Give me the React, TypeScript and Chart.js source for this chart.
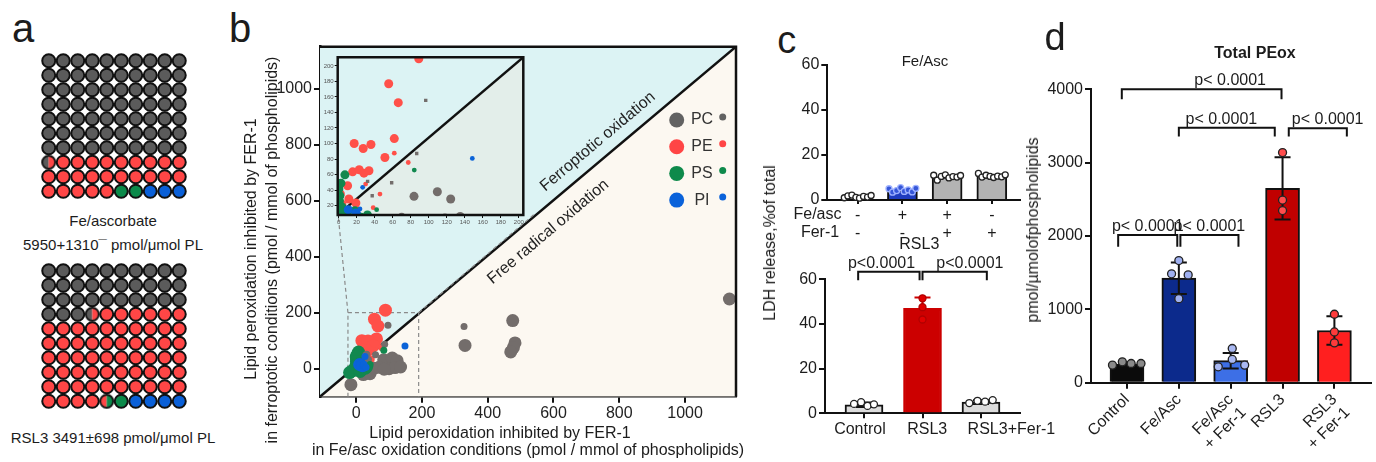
import React, { useEffect, useRef } from 'react';
import { Chart, registerables } from 'chart.js';

Chart.register(...registerables);

const FONT = '"Liberation Sans", Arial, Helvetica, sans-serif';
Chart.defaults.font.family = FONT;
Chart.defaults.color = '#1c1c1c';

type Pt = [number, number];

/* ---------------- Panel a : waffle grids ---------------- */
const waffleFeAscRows = [
  'CCCCCCCCCC', 'CCCCCCCCCC', 'CCCCCCCCCC', 'CCCCCCCCCC', 'CCCCCCCCCC', 'CCCCCCCCCC', 'CCCCCCCCCC',
  'xEEEEEEEEE', 'EEEEEEEEEE', 'EEEEESSIII',
];
const waffleRsl3Rows = [
  'CCCCCCCCCC', 'CCCCCCCCCC', 'CCCCCCCCCC', 'CCCxEEEEEE',
  'EEEEEEEEEE', 'EEEEEEEEEE', 'EEEEEEEEEE', 'EEEEEEEEEE', 'EEEEEEEEEE',
  'EEEEySIIII',
];
const waffleColors: Record<string, string> = { C: '#5b5b5b', E: '#ff4646', S: '#0b8a4a', I: '#0a60d8' };
const waffleSplits: Record<string, [string, string]> = { x: ['C', 'E'], y: ['E', 'S'] };
const feAscCaption = ['Fe/ascorbate', '5950+1310\u00AF pmol/\u03BCmol PL'];
const rsl3Caption = 'RSL3 3491\u00B1698 pmol/\u03BCmol PL';

/* ---------------- Panel b : scatter ---------------- */
const bClasses = ['PC', 'PE', 'PS', 'PI'];
const bColors = ['#736d6b', '#ff5049', '#11884f', '#0b63d8'];
const bLegendColors = ['#626262', '#ff4545', '#0e8a4b', '#0a62da'];
const pcLarge: Pt[] = [[83.7, 32], [109.6, 38], [124.4, 28.6], [476, 172], [331, 83], [483, 92], [478, 75], [470, 60],
  [1135, 249], [-16, -57], [2, -5], [22, -21], [42, -18], [55, 2], [70, 5], [100, 0], [118, 4], [135, 6], [85, -2]];
const pcSmall: Pt[] = [[96.7, 155.5], [86.7, 87.2], [32.2, 51.3], [58.9, 49.5], [37.3, 32.8], [328, 151]];
const peLarge: Pt[] = [[89, 209], [55.6, 177], [66.2, 152.6], [61.8, 106.4], [17.3, 100], [27.3, 93.6], [35.9, 98.7],
  [51.4, 82], [15.6, 63.6], [22.9, 66.2], [28.1, 61.9], [33.7, 64.9], [10, 45.6], [11.4, 28.6], [19.2, 23.5], [2, 35], [3.7, 22]];
const peSmall: Pt[] = [[61.8, 87.6], [77.3, 75.6], [30, 47.8], [45.9, 35], [38.4, 17.4]];
const psLarge: Pt[] = [[7, 59.7], [1.4, 32.8], [18.1, 13.6], [0.3, 41.4], [2.6, 49], [0.9, 26], [3.7, 18.3], [7, 12],
  [0.3, 13], [10.3, 13], [5, 5], [-5, 0], [15, -5], [25, 5], [-12, -8], [-20, -14], [28, 2], [12, -10], [32, 8]];
const psSmall: Pt[] = [[84, 65.8], [42.2, 14.9]];
const piLarge: Pt[] = [[10.7, 14.9], [19.2, 10.6]];
const piSmall: Pt[] = [[148.4, 80.8], [26.7, 43.6], [21.8, 11.5], [23.7, 15.8], [30, 5]];
const bPointSets: { cls: number; big: boolean; pts: Pt[]; order: number }[] = [
  { cls: 1, big: true, pts: peLarge, order: 8 },
  { cls: 0, big: true, pts: pcLarge, order: 7 },
  { cls: 2, big: true, pts: psLarge, order: 6 },
  { cls: 3, big: true, pts: piLarge, order: 5 },
  { cls: 1, big: false, pts: peSmall, order: 4 },
  { cls: 0, big: false, pts: pcSmall, order: 3 },
  { cls: 2, big: false, pts: psSmall, order: 2 },
  { cls: 3, big: false, pts: piSmall, order: 1 },
];
const bXRange: Pt = [-110, 1155];
const bYRange: Pt = [-100, 1150];
const bXTicks = [0, 200, 400, 600, 800, 1000];
const bYTicks = [0, 200, 400, 600, 800, 1000];
const bZoomBox: Pt[] = [[-25, -100], [-25, 200], [190, 200], [190, -100]];
const bZoomLinkLeft: Pt[] = [[-25, 200], [-55, 550]];
const bZoomLinkRight: Pt[] = [[190, 200], [540, 550]];
const bRegionLabels = [
  { text: 'Ferroptotic oxidation', x: 735, y: 811 },
  { text: 'Free radical oxidation', x: 584, y: 489 },
];
const insetXRange: Pt = [-1, 205];
const insetYRange: Pt = [8, 211];
const insetXTicks = [0, 20, 40, 60, 80, 100, 120, 140, 160, 180, 200];
const insetYTicks = [20, 40, 60, 80, 100, 120, 140, 160, 180, 200];

/* ---------------- Panel c ---------------- */
const cTopFeAsc = ['-', '+', '+', '-'];
const cTopFer1 = ['-', '-', '+', '+'];
const cTopValues = [1.5, 4.3, 10.3, 10.8];
const cTopReplicates = [
  [1.0, 1.8, 2.2, 1.2, 0.8, 1.6, 1.3, 2.0],
  [5.0, 3.5, 4.2, 5.5, 3.8, 4.5, 3.6, 5.2],
  [11.0, 8.8, 10.5, 11.2, 9.8, 10.4, 10.2, 10.9],
  [11.8, 10.2, 11.0, 10.5, 10.0, 10.6, 10.3, 11.2],
];
const cTopOffsets = [-0.3, -0.22, -0.13, -0.04, 0.04, 0.13, 0.22, 0.3];
const cYTicks = [0, 20, 40, 60];
const cBotLabels = ['Control', 'RSL3', 'RSL3+Fer-1'];
const cBotLabelPos = [-0.07, 1.08, 2.52];
const cBotValues = [3.8, 47, 5.0];
const cBotSd = [1.0, 4.8, 0.8];
const cBotReplicates = [[4.2, 5.0, 3.3, 4.0], [51.5, 47.5, 42.0], [4.6, 5.6, 5.2, 5.9]];
const cBotOffsets = [[-0.17, -0.05, 0.06, 0.17], [0, 0, 0], [-0.2, -0.06, 0.07, 0.2]];
const cBotBrackets = [
  { from: -0.1, to: 0.95, y: 63.4, drop: 59.6, label: 'p<0.0001', labelX: 0.3 },
  { from: 1.0, to: 2.1, y: 63.4, drop: 59.6, label: 'p<0.0001', labelX: 1.81 },
];

/* ---------------- Panel d ---------------- */
const dLabels = [['Control'], ['Fe/Asc'], ['Fe/Asc', '+ Fer-1'], ['RSL3'], ['RSL3', '+ Fer-1']];
const dValues = [255, 1425, 300, 2650, 712];
const dSd = [25, 215, 105, 425, 195];
const dReplicates = [[240, 285, 262, 262], [1665, 1485, 1470, 1145], [466, 317, 217, 240], [3138, 2490, 2347], [933, 692, 543]];
const dOffsets = [[-0.28, -0.09, 0.08, 0.27], [0, -0.14, 0.18, 0], [0.03, 0.03, -0.24, 0.27], [0, 0, 0], [0, 0, 0]];
const dYTicks = [0, 1000, 2000, 3000, 4000];
const dBrackets = [
  { from: -0.1, to: 2.98, y: 4001, drop: 3865, label: 'p< 0.0001', labelX: 1.99 },
  { from: 1.0, to: 2.85, y: 3477, drop: 3355, label: 'p< 0.0001', labelX: 1.82 },
  { from: 3.12, to: 4.24, y: 3469, drop: 3355, label: 'p< 0.0001', labelX: 3.87 },
  { from: -0.17, to: 0.97, y: 2014, drop: 1855, label: 'p< 0.0001' },
  { from: 1.03, to: 2.15, y: 2014, drop: 1855, label: 'p< 0.0001' },
];

/* ---------------- helpers ---------------- */
const base = (padding: any) => ({
  responsive: false,
  animation: false as const,
  devicePixelRatio: 1,
  events: [] as any[],
  layout: { padding },
  plugins: { legend: { display: false }, tooltip: { enabled: false }, title: { display: false } },
});
const tickGrid = (len: number, lw = 2) => ({
  display: true, drawOnChartArea: false, drawTicks: true, tickLength: len, color: '#111', lineWidth: lw, offset: false,
});
const xy = (arr: Pt[]) => arr.map(([x, y]) => ({ x, y }));

function splitCircle(left: string, right: string, r: number, bw: number) {
  const size = Math.ceil(2 * (r + bw));
  const cv = document.createElement('canvas');
  cv.width = size; cv.height = size;
  const g = cv.getContext('2d')!;
  const c = size / 2;
  g.fillStyle = left; g.beginPath(); g.moveTo(c, c); g.arc(c, c, r, Math.PI / 2, Math.PI * 1.5); g.closePath(); g.fill();
  g.fillStyle = right; g.beginPath(); g.moveTo(c, c); g.arc(c, c, r, -Math.PI / 2, Math.PI / 2); g.closePath(); g.fill();
  g.strokeStyle = '#111'; g.lineWidth = bw; g.beginPath(); g.arc(c, c, r, 0, Math.PI * 2); g.stroke();
  return cv;
}

function waffleConfig(rows: string[]) {
  const pts: any[] = [], colors: string[] = [], styles: any[] = [];
  rows.forEach((row, r) => row.split('').forEach((code, c) => {
    pts.push({ x: c + 1, y: r + 1 });
    if (waffleSplits[code]) {
      const [l, rr] = waffleSplits[code];
      styles.push(splitCircle(waffleColors[l], waffleColors[rr], 6.5, 2));
      colors.push('rgba(0,0,0,0)');
    } else { styles.push('circle'); colors.push(waffleColors[code]); }
  }));
  return {
    type: 'scatter',
    data: { datasets: [{ data: pts, pointStyle: styles, pointRadius: 6.5, pointBackgroundColor: colors, pointBorderColor: '#111', pointBorderWidth: 2, clip: false }] },
    options: {
      ...base(0),
      scales: {
        x: { type: 'linear', min: 0.5, max: 10.5, display: false },
        y: { type: 'linear', min: 0.5, max: 10.5, reverse: true, display: false },
      },
    },
  };
}

function bPointDatasets(rL: number, rS: number, smallPcStyle: string) {
  return bPointSets.map(s => ({
    data: xy(s.pts), showLine: false,
    pointRadius: s.big ? rL : rS,
    pointStyle: (!s.big && s.cls === 0) ? smallPcStyle : 'circle',
    pointBackgroundColor: bColors[s.cls], pointBorderWidth: 0, borderWidth: 0, order: s.order,
  }));
}
function diagSets(xr: Pt, yr: Pt, above: string, below: string) {
  const d = [{ x: xr[0], y: yr[0] }, { x: xr[1], y: yr[1] }];
  const none = 'rgba(0,0,0,0)';
  return [
    { data: d, borderColor: '#111', borderWidth: 2.5, pointRadius: 0, fill: false, order: 12 },
    { data: d, borderColor: none, borderWidth: 1, pointRadius: 0, fill: 'end', backgroundColor: above, order: 20 },
    { data: d, borderColor: none, borderWidth: 1, pointRadius: 0, fill: 'start', backgroundColor: below, order: 21 },
  ];
}

function framePlugin(all: boolean, width: number) {
  return {
    id: 'frame' + (all ? 'All' : 'TR'),
    afterDatasetsDraw(chart: any) {
      const { ctx, chartArea: a } = chart;
      ctx.save();
      ctx.strokeStyle = '#111'; ctx.lineWidth = width;
      ctx.beginPath();
      if (all) { ctx.rect(a.left, a.top, a.right - a.left, a.bottom - a.top); }
      else { ctx.moveTo(a.left, a.top); ctx.lineTo(a.right, a.top); ctx.lineTo(a.right, a.bottom); }
      ctx.stroke();
      ctx.restore();
    },
  };
}

const bTextPlugin = {
  id: 'bText',
  afterDatasetsDraw(chart: any) {
    const { ctx, chartArea: a, scales: { x, y } } = chart;
    ctx.save();
    const ang = Math.atan2(y.getPixelForValue(bYRange[1]) - y.getPixelForValue(bYRange[0]),
      x.getPixelForValue(bXRange[1]) - x.getPixelForValue(bXRange[0]));
    ctx.font = `16px ${FONT}`; ctx.fillStyle = '#222'; ctx.textAlign = 'center'; ctx.textBaseline = 'middle';
    bRegionLabels.forEach(l => {
      ctx.save();
      ctx.translate(x.getPixelForValue(l.x), y.getPixelForValue(l.y));
      ctx.rotate(ang);
      ctx.fillText(l.text, 0, 0);
      ctx.restore();
    });
    bClasses.forEach((name, i) => {
      const cy = a.top + 73.3 + i * 26.7;
      ctx.fillStyle = bLegendColors[i];
      ctx.beginPath(); ctx.arc(a.right - 59.3, cy, 7.5, 0, Math.PI * 2); ctx.fill();
      ctx.beginPath(); ctx.arc(a.right - 13.3, cy - 3, 3.5, 0, Math.PI * 2); ctx.fill();
      ctx.fillStyle = '#333';
      ctx.fillText(name, a.right - 34, cy);
    });
    ctx.restore();
  },
};

function bMainConfig() {
  const dashed = (pts: Pt[]) => ({ data: xy(pts), borderColor: '#8a8a8a', borderWidth: 1.2, borderDash: [4, 3], pointRadius: 0, fill: false, order: 11 });
  return {
    type: 'line',
    data: {
      datasets: [
        ...bPointDatasets(6.5, 3.5, 'circle'),
        dashed(bZoomBox), dashed(bZoomLinkLeft), dashed(bZoomLinkRight),
        ...diagSets(bXRange, bYRange, '#dcf3f4', '#fcf8f1'),
      ],
    },
    options: {
      ...base({ left: 0, top: 16.7, right: 14, bottom: 0 }),
      scales: {
        x: {
          type: 'linear', min: bXRange[0], max: bXRange[1], offset: false,
          afterBuildTicks: (s: any) => { s.ticks = bXTicks.map(v => ({ value: v })); },
          ticks: { callback: (v: any) => String(v), font: { size: 16 }, color: '#222', padding: 1, maxRotation: 0, autoSkip: false },
          grid: tickGrid(6), border: { display: true, color: '#111', width: 2.5 },
          afterFit: (s: any) => { s.height = 65.3; },
        },
        y: {
          type: 'linear', min: bYRange[0], max: bYRange[1],
          afterBuildTicks: (s: any) => { s.ticks = bYTicks.map(v => ({ value: v })); },
          ticks: { callback: (v: any) => String(v), font: { size: 16 }, color: '#222', padding: 2 },
          grid: tickGrid(6), border: { display: true, color: '#111', width: 2.5 },
          afterFit: (s: any) => { s.width = 90; },
        },
      },
    },
    plugins: [framePlugin(false, 2.5), bTextPlugin],
  };
}

function bInsetConfig() {
  return {
    type: 'line',
    data: { datasets: [...bPointDatasets(4.5, 2.4, 'rect'), ...diagSets(insetXRange, insetYRange, '#dcf3f4', '#e3eeea')] },
    options: {
      ...base({ left: 0, top: 9.3, right: 11.7, bottom: 0 }),
      scales: {
        x: {
          type: 'linear', min: insetXRange[0], max: insetXRange[1], offset: false,
          afterBuildTicks: (s: any) => { s.ticks = insetXTicks.map(v => ({ value: v })); },
          ticks: { callback: (v: any) => String(v), font: { size: 6 }, color: '#555', padding: 1, maxRotation: 0, autoSkip: false },
          grid: tickGrid(3, 1), border: { display: false },
          afterFit: (s: any) => { s.height = 18; },
        },
        y: {
          type: 'linear', min: insetYRange[0], max: insetYRange[1],
          afterBuildTicks: (s: any) => { s.ticks = insetYTicks.map(v => ({ value: v })); },
          ticks: { callback: (v: any) => String(v), font: { size: 6 }, color: '#555', padding: 1, autoSkip: false },
          grid: tickGrid(3, 1), border: { display: false },
          afterFit: (s: any) => { s.width = 27.7; },
        },
      },
    },
    plugins: [framePlugin(true, 2.5)],
  };
}

type Bracket = { from: number; to: number; y: number; drop: number; label: string; labelX?: number };

function barPanelConfig(p: any) {
  const idx = p.values.map((_: number, i: number) => i);
  const datasets: any[] = [
    {
      type: 'bar', data: p.values.map((v: number, i: number) => ({ x: i, y: v })),
      backgroundColor: p.barColors, borderColor: p.barEdges, borderWidth: 2, barThickness: p.barWidth, order: 2,
    },
    ...p.reps.map((reps: number[], i: number) => ({
      type: 'scatter', data: reps.map((v, j) => ({ x: i + p.offsets[i][j], y: v })),
      pointRadius: p.dotR, pointBackgroundColor: p.dotFill[i], pointBorderColor: p.dotEdge[i], pointBorderWidth: 1.3,
      order: 1, clip: false,
    })),
  ];
  const errPlugin = {
    id: 'errbars',
    afterDatasetDraw(chart: any, args: any) {
      if (args.index !== 0) return;
      const { ctx, scales: { x, y } } = chart;
      ctx.save(); ctx.lineWidth = 2;
      p.values.forEach((m: number, i: number) => {
        const sd = p.sds[i]; if (!sd) return;
        const px = x.getPixelForValue(i);
        const t = y.getPixelForValue(m + sd), b = y.getPixelForValue(Math.max(m - sd, 0));
        ctx.strokeStyle = p.errColors[i];
        ctx.beginPath();
        ctx.moveTo(px, t); ctx.lineTo(px, b);
        ctx.moveTo(px - p.capHalf, t); ctx.lineTo(px + p.capHalf, t);
        ctx.moveTo(px - p.capHalf, b); ctx.lineTo(px + p.capHalf, b);
        ctx.stroke();
      });
      ctx.restore();
    },
  };
  const brPlugin = {
    id: 'brackets',
    afterDraw(chart: any) {
      const { ctx, scales: { x, y } } = chart;
      ctx.save();
      ctx.strokeStyle = '#111'; ctx.lineWidth = 2; ctx.fillStyle = '#1c1c1c';
      ctx.font = `16px ${FONT}`; ctx.textAlign = 'center'; ctx.textBaseline = 'alphabetic';
      (p.brackets as Bracket[]).forEach(b => {
        const x1 = x.getPixelForValue(b.from), x2 = x.getPixelForValue(b.to);
        const yt = y.getPixelForValue(b.y), yb = y.getPixelForValue(b.drop);
        ctx.beginPath(); ctx.moveTo(x1, yb); ctx.lineTo(x1, yt); ctx.lineTo(x2, yt); ctx.lineTo(x2, yb); ctx.stroke();
        const lx = x.getPixelForValue(b.labelX ?? (b.from + b.to) / 2);
        ctx.fillText(b.label, lx, yt - 4);
      });
      ctx.restore();
    },
  };
  const separateLabels = !!p.labelPos;
  const scales: any = {
    x: {
      type: 'linear', min: p.xRange[0], max: p.xRange[1], offset: false, weight: 0,
      afterBuildTicks: (s: any) => { s.ticks = idx.map((v: number) => ({ value: v })); },
      ticks: {
        callback: (v: any) => (separateLabels ? '' : p.xLabel(v)), font: { size: 16, lineHeight: 1.15 }, color: '#1c1c1c',
        padding: p.xPad, autoSkip: false, minRotation: p.rotation, maxRotation: p.rotation,
      },
      grid: tickGrid(p.xTickLen), border: { display: true, color: '#111', width: 2 },
      afterFit: (s: any) => { s.height = separateLabels ? p.xTickLen + 1 : p.xHeight; },
    },
    y: {
      type: 'linear', min: p.yRange[0], max: p.yRange[1],
      afterBuildTicks: (s: any) => { s.ticks = p.yTicks.map((v: number) => ({ value: v })); },
      ticks: { callback: (v: any) => String(v), font: { size: 16 }, color: '#1c1c1c', padding: 2 },
      grid: tickGrid(6), border: { display: true, color: '#111', width: 2 },
      afterFit: (s: any) => { s.width = p.yWidth; },
    },
  };
  if (separateLabels) {
    scales.xl = {
      type: 'linear', position: 'bottom', min: p.xRange[0], max: p.xRange[1], offset: false, weight: 1,
      afterBuildTicks: (s: any) => { s.ticks = p.labelPos.map((v: number) => ({ value: v })); },
      ticks: {
        callback: (_v: any, i: number) => p.xLabel(i), font: { size: 16 }, color: '#1c1c1c',
        padding: 1, autoSkip: false, maxRotation: 0,
      },
      grid: { display: false, drawTicks: false }, border: { display: false },
      afterFit: (s: any) => { s.height = p.xHeight - p.xTickLen - 1; },
    };
  }
  return {
    type: 'bar',
    data: { datasets },
    options: { ...base(p.padding), scales },
    plugins: [errPlugin, brPlugin],
  };
}

const cTopConfig = () => barPanelConfig({
  values: cTopValues, sds: [0, 0, 0, 0],
  barColors: ['#e4e4e4', '#1f3cbf', '#b3b3b3', '#b3b3b3'], barEdges: '#111', barWidth: 30,
  reps: cTopReplicates, offsets: cTopReplicates.map(() => cTopOffsets),
  dotFill: ['#ffffff', '#3556d8', '#ffffff', '#ffffff'], dotEdge: ['#222', '#9fb2ff', '#222', '#222'], dotR: 3,
  errColors: ['#111', '#111', '#111', '#111'], capHalf: 6,
  xRange: [-0.68, 3.63], yRange: [0, 60], yTicks: cYTicks,
  xLabel: (i: number) => [cTopFeAsc[i], cTopFer1[i]], rotation: 0, xPad: 2, xTickLen: 4,
  xHeight: 50, yWidth: 57.3, padding: { left: 0, top: 25, right: 30, bottom: 0 }, brackets: [],
});

const cBotConfig = () => barPanelConfig({
  values: cBotValues, sds: cBotSd,
  barColors: ['#dcdcdc', '#cc0000', '#dcdcdc'], barEdges: ['#111', '#cc0000', '#111'], barWidth: 38,
  reps: cBotReplicates, offsets: cBotOffsets,
  dotFill: ['#ffffff', '#e00000', '#ffffff'], dotEdge: ['#222', '#b00000', '#222'], dotR: 3.5,
  errColors: ['#111', '#cc0000', '#111'], capHalf: 8,
  xRange: [-0.667, 2.667], yRange: [0, 60], yTicks: cYTicks,
  xLabel: (i: number) => cBotLabels[i], labelPos: cBotLabelPos, rotation: 0, xPad: 2, xTickLen: 5,
  xHeight: 48.7, yWidth: 55, padding: { left: 0, top: 29.3, right: 50, bottom: 0 }, brackets: cBotBrackets,
});

const dConfig = () => barPanelConfig({
  values: dValues, sds: dSd,
  barColors: ['#0b0b0b', '#0c2a8c', '#3d6fe6', '#c00000', '#ff1f1f'], barEdges: '#111', barWidth: 34,
  reps: dReplicates, offsets: dOffsets,
  dotFill: ['#8a8a8a', '#9fb0f0', '#a9b8f2', '#ff4d4d', '#ff3b3b'], dotEdge: ['#222', '#222', '#222', '#222', '#222'], dotR: 4,
  errColors: ['#111', '#111', '#111', '#111', '#111'], capHalf: 8,
  xRange: [-0.694, 4.7], yRange: [0, 4000], yTicks: dYTicks,
  xLabel: (i: number) => dLabels[i], rotation: 45, xPad: 2, xTickLen: 6,
  xHeight: 79.3, yWidth: 71, padding: { left: 0, top: 59.3, right: 1, bottom: 0 }, brackets: dBrackets,
});

/* ---------------- components ---------------- */
function ChartBox({ make, left, top, width, height }: { make: () => any; left: number; top: number; width: number; height: number }) {
  const ref = useRef<HTMLCanvasElement>(null);
  useEffect(() => {
    const chart = new Chart(ref.current as HTMLCanvasElement, make());
    return () => chart.destroy();
  }, []);
  return <canvas ref={ref} width={width} height={height} style={{ position: 'absolute', left, top, width, height }} />;
}

function Txt({ x, y, children, size = 16, weight = 400, rotate = 0 }: any) {
  return (
    <div style={{
      position: 'absolute', left: x, top: y, transform: `translate(-50%, -50%) rotate(${rotate}deg)`,
      fontSize: size, fontWeight: weight, lineHeight: 1, whiteSpace: 'nowrap', color: '#1c1c1c', fontFamily: FONT,
    }}>{children}</div>
  );
}

export default function App() {
  return (
    <div style={{ position: 'absolute', left: 0, top: 0, width: 1376, height: 462, background: '#fff', overflow: 'hidden', fontFamily: FONT }}>
      {/* panel a */}
      <Txt x={23} y={27.5} size={40}>a</Txt>
      <ChartBox make={() => waffleConfig(waffleFeAscRows)} left={32.5} top={45} width={162} height={162} />
      <Txt x={113} y={220} size={15}>{feAscCaption[0]}</Txt>
      <Txt x={113} y={244} size={15}>{feAscCaption[1]}</Txt>
      <ChartBox make={() => waffleConfig(waffleRsl3Rows)} left={32.5} top={255} width={162} height={162} />
      <Txt x={113} y={437} size={15}>{rsl3Caption}</Txt>

      {/* panel b */}
      <Txt x={240} y={28} size={40}>b</Txt>
      <ChartBox make={bMainConfig} left={230} top={30} width={520} height={432} />
      <ChartBox make={bInsetConfig} left={310} top={48} width={225} height={185} />
      <Txt x={250.7} y={249} rotate={-90}>Lipid peroxidation inhibited by FER-1</Txt>
      <Txt x={271.7} y={250} rotate={-90}>in ferroptotic conditions (pmol / mmol of phospholipids)</Txt>
      <Txt x={500} y={433.3}>Lipid peroxidation inhibited by FER-1</Txt>
      <Txt x={528} y={450}>in Fe/asc oxidation conditions (pmol / mmol of phospholipids)</Txt>

      {/* panel c */}
      <Txt x={786.7} y={40} size={38}>c</Txt>
      <ChartBox make={cTopConfig} left={770} top={40} width={280} height={210} />
      <ChartBox make={cBotConfig} left={770} top={250} width={300} height={212} />
      <Txt x={925} y={59.5} size={15}>Fe/Asc</Txt>
      <Txt x={817.5} y={214}>Fe/asc</Txt>
      <Txt x={820} y={231.7}>Fer-1</Txt>
      <Txt x={919.3} y={244}>RSL3</Txt>
      <Txt x={770} y={243} rotate={-90}>LDH release,%of total</Txt>

      {/* panel d */}
      <Txt x={1055} y={37} size={38}>d</Txt>
      <ChartBox make={dConfig} left={1020} top={30} width={356} height={432} />
      <Txt x={1255} y={53.3} weight={700}>Total PEox</Txt>
      <Txt x={1033} y={230} rotate={-90}>pmol/µmolofphospholipids</Txt>
    </div>
  );
}
